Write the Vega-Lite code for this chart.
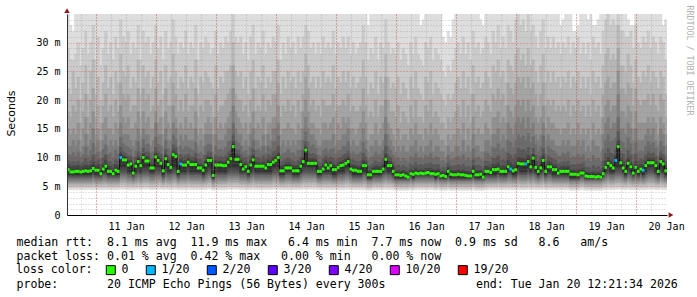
{
"$schema":"https://vega.github.io/schema/vega-lite/v6.json",
"width":600,"height":201,
"autosize":{"type":"none"},
"padding":{"left":67,"top":14,"right":30,"bottom":82},
"background":"#ffffff",
"config":{"view":{"stroke":null},"font":"DejaVu Sans Mono"},
"datasets":{
"lows":[
{"q":"a","lo":[4.3,4.6,4.9,5.2,5.5,5.8,6.0,6.2,6.4,6.5]},
{"q":"b","lo":[4.4,4.8,5.1,5.4,5.7,6.0,6.3,6.6,6.8,7.0]},
{"q":"c","lo":[4.4,4.8,5.2,5.5,5.9,6.2,6.6,7.0,7.3,7.6]},
{"q":"d","lo":[4.5,4.9,5.3,5.7,6.1,6.5,6.9,7.3,7.8,8.4]}
],
"med":[
{"i":0,"m":7.9,"l":0,"q":"b","hi":[36,29,22,18,15,12,10.6,9.5,8.8,8.3]},
{"i":1,"m":7.5,"l":0,"q":"b","hi":[33,27,21,17,14,12,10.4,9.2,8.4,7.9]},
{"i":2,"m":7.5,"l":0,"q":"b","hi":[32,27,25,19,15,13,10.9,9.3,8.5,7.9]},
{"i":3,"m":7.6,"l":0,"q":"b","hi":[37,28,22,18,14,12,10.2,9.1,8.5,8.0]},
{"i":4,"m":7.6,"l":0,"q":"b","hi":[36,30,24,20,16,13,11.0,9.4,8.6,8.0]},
{"i":5,"m":7.5,"l":0,"q":"b","hi":[39,26,20,16,13,11,10.0,9.0,8.4,7.9]},
{"i":6,"m":7.6,"l":0,"q":"b","hi":[37,29,23,18,15,12,10.5,9.2,8.5,8.0]},
{"i":7,"m":7.7,"l":0,"q":"b","hi":[38,32,26,21,17,14,11.8,9.8,8.7,8.1]},
{"i":8,"m":7.6,"l":0,"q":"b","hi":[36,28,21,17,14,12,10.3,9.1,8.5,8.0]},
{"i":9,"m":7.7,"l":0,"q":"b","hi":[37,30,25,20,16,13,11.2,9.5,8.7,8.1]},
{"i":10,"m":8.1,"l":0,"q":"c","hi":[40,33,27,22,18,15,12.5,10.4,9.2,8.5]},
{"i":11,"m":7.8,"l":0,"q":"b","hi":[36,27,21,17,14,12,10.6,9.4,8.7,8.2]},
{"i":12,"m":7.8,"l":0,"q":"b","hi":[38,31,24,19,15,13,11.0,9.6,8.8,8.2]},
{"i":13,"m":7.2,"l":0,"q":"b","hi":[35,26,20,16,13,11,9.8,8.8,8.0,7.6]},
{"i":14,"m":8.0,"l":0,"q":"c","hi":[37,29,23,19,16,13,11.4,9.9,9.0,8.4]},
{"i":15,"m":8.5,"l":0,"q":"c","hi":[39,32,26,21,17,14,12.2,10.5,9.5,8.9]},
{"i":16,"m":7.6,"l":0,"q":"b","hi":[36,28,22,18,15,12,10.5,9.2,8.5,8.0]},
{"i":17,"m":7.6,"l":0,"q":"b","hi":[38,30,24,19,15,13,10.9,9.3,8.5,8.0]},
{"i":18,"m":7.2,"l":0,"q":"b","hi":[37,27,21,17,14,12,10.0,8.9,8.1,7.6]},
{"i":19,"m":7.8,"l":0,"q":"b","hi":[39,31,25,20,16,13,11.3,9.6,8.8,8.2]},
{"i":20,"m":7.6,"l":0,"q":"b","hi":[36,29,23,18,15,12,10.6,9.3,8.5,8.0]},
{"i":21,"m":10.0,"l":1,"q":"d","hi":[40,34,28,23,19,16,13.5,11.8,10.9,10.4]},
{"i":22,"m":9.6,"l":0,"q":"d","hi":[38,31,25,21,17,14,12.4,11.0,10.3,10.0]},
{"i":23,"m":9.6,"l":0,"q":"d","hi":[37,30,24,20,16,14,12.0,10.8,10.2,10.0]},
{"i":24,"m":8.7,"l":0,"q":"c","hi":[39,32,26,21,17,14,11.8,10.3,9.5,9.1]},
{"i":25,"m":8.9,"l":0,"q":"c","hi":[36,28,22,18,15,13,11.4,10.2,9.5,9.3]},
{"i":26,"m":7.3,"l":0,"q":"b","hi":[38,30,24,19,15,12,10.2,8.9,8.1,7.7]},
{"i":27,"m":8.5,"l":0,"q":"c","hi":[37,29,23,19,16,13,11.2,10.0,9.2,8.9]},
{"i":28,"m":9.3,"l":0,"q":"d","hi":[40,33,27,22,18,15,12.8,11.0,10.1,9.7]},
{"i":29,"m":8.6,"l":0,"q":"c","hi":[36,27,21,17,14,12,10.9,9.8,9.1,9.0]},
{"i":30,"m":10.0,"l":0,"q":"d","hi":[39,32,26,22,18,15,13.2,11.6,10.7,10.4]},
{"i":31,"m":9.4,"l":0,"q":"d","hi":[37,30,24,20,16,14,12.2,10.9,10.1,9.8]},
{"i":32,"m":9.4,"l":0,"q":"d","hi":[38,31,25,21,17,14,12.4,11.0,10.2,9.8]},
{"i":33,"m":8.2,"l":0,"q":"c","hi":[36,28,22,18,15,12,10.8,9.7,9.0,8.6]},
{"i":34,"m":8.2,"l":0,"q":"c","hi":[39,30,24,19,15,13,11.0,9.8,9.0,8.6]},
{"i":35,"m":10.1,"l":0,"q":"d","hi":[40,33,27,22,18,16,13.6,11.8,10.9,10.5]},
{"i":36,"m":9.5,"l":0,"q":"d","hi":[37,29,23,19,16,14,12.3,11.0,10.2,9.9]},
{"i":37,"m":9.0,"l":0,"q":"d","hi":[38,31,25,20,17,14,12.0,10.6,9.8,9.4]},
{"i":38,"m":7.7,"l":0,"q":"b","hi":[35,27,21,17,14,12,10.3,9.1,8.4,8.1]},
{"i":39,"m":9.8,"l":0,"q":"d","hi":[39,32,26,22,18,15,13.0,11.4,10.5,10.2]},
{"i":40,"m":8.8,"l":0,"q":"c","hi":[37,29,23,19,16,13,11.6,10.3,9.6,9.2]},
{"i":41,"m":8.3,"l":0,"q":"c","hi":[38,30,24,19,15,13,11.0,9.9,9.1,8.7]},
{"i":42,"m":10.5,"l":0,"q":"d","hi":[40,34,28,23,19,16,14.0,12.2,11.3,10.9]},
{"i":43,"m":10.2,"l":0,"q":"d","hi":[39,31,25,21,17,15,13.2,11.8,11.0,10.6]},
{"i":44,"m":7.6,"l":0,"q":"b","hi":[36,28,22,18,15,12,10.5,9.2,8.4,8.0]},
{"i":45,"m":8.9,"l":1,"q":"c","hi":[38,30,24,20,16,14,12.0,10.5,9.7,9.3]},
{"i":46,"m":8.7,"l":0,"q":"c","hi":[37,29,23,18,15,13,11.4,10.1,9.4,9.1]},
{"i":47,"m":8.7,"l":0,"q":"c","hi":[39,32,26,21,17,14,12.0,10.4,9.5,9.1]},
{"i":48,"m":9.2,"l":0,"q":"d","hi":[36,28,22,18,15,13,11.8,10.6,9.9,9.6]},
{"i":49,"m":8.8,"l":0,"q":"c","hi":[38,30,24,19,16,13,11.5,10.2,9.5,9.2]},
{"i":50,"m":8.8,"l":0,"q":"c","hi":[37,29,23,19,15,13,11.3,10.1,9.4,9.2]},
{"i":51,"m":8.8,"l":0,"q":"c","hi":[40,33,27,22,18,15,12.6,10.8,9.8,9.2]},
{"i":52,"m":8.2,"l":0,"q":"c","hi":[36,27,21,17,14,12,10.6,9.6,8.9,8.6]},
{"i":53,"m":8.2,"l":0,"q":"c","hi":[38,30,24,19,15,13,11.0,9.8,9.0,8.6]},
{"i":54,"m":7.8,"l":0,"q":"b","hi":[37,29,23,18,14,12,10.5,9.3,8.6,8.2]},
{"i":55,"m":8.7,"l":0,"q":"c","hi":[39,31,25,20,16,14,12.0,10.4,9.5,9.1]},
{"i":56,"m":9.5,"l":0,"q":"d","hi":[38,30,24,20,17,14,12.4,11.0,10.2,9.9]},
{"i":57,"m":9.5,"l":0,"q":"d","hi":[36,28,23,19,16,14,12.2,10.9,10.1,9.9]},
{"i":58,"m":6.9,"l":0,"q":"a","hi":[37,29,22,17,14,11,9.6,8.4,7.7,7.3]},
{"i":59,"m":8.7,"l":0,"q":"c","hi":[39,32,26,21,17,14,12.0,10.4,9.5,9.1]},
{"i":60,"m":8.7,"l":0,"q":"c","hi":[36,28,22,18,15,13,11.3,10.1,9.4,9.1]},
{"i":61,"m":8.7,"l":0,"q":"c","hi":[38,30,24,19,16,13,11.5,10.2,9.4,9.1]},
{"i":62,"m":8.6,"l":0,"q":"c","hi":[37,29,23,19,15,13,11.2,10.0,9.3,9.0]},
{"i":63,"m":8.6,"l":0,"q":"c","hi":[40,31,25,20,16,14,11.8,10.3,9.4,9.0]},
{"i":64,"m":9.2,"l":0,"q":"d","hi":[38,30,25,21,17,15,12.8,11.0,10.0,9.6]},
{"i":65,"m":9.8,"l":0,"q":"d","hi":[39,32,26,22,18,15,13.0,11.4,10.6,10.2]},
{"i":66,"m":11.9,"l":0,"q":"d","hi":[41,35,30,26,22,19,16.0,14.0,12.8,12.3]},
{"i":67,"m":9.7,"l":0,"q":"d","hi":[38,31,25,21,18,15,13.0,11.4,10.6,10.1]},
{"i":68,"m":9.7,"l":0,"q":"d","hi":[37,30,24,20,17,14,12.5,11.2,10.4,10.1]},
{"i":69,"m":8.8,"l":0,"q":"c","hi":[38,31,25,20,16,14,12.0,10.5,9.6,9.2]},
{"i":70,"m":8.0,"l":0,"q":"c","hi":[36,28,22,18,15,12,10.9,9.8,9.0,8.4]},
{"i":71,"m":8.4,"l":0,"q":"c","hi":[39,30,24,19,16,13,11.2,10.0,9.2,8.8]},
{"i":72,"m":7.6,"l":0,"q":"b","hi":[37,27,21,17,14,12,10.4,9.2,8.4,8.0]},
{"i":73,"m":8.7,"l":0,"q":"c","hi":[38,31,25,20,16,14,11.8,10.3,9.5,9.1]},
{"i":74,"m":9.6,"l":0,"q":"d","hi":[40,33,27,22,18,15,13.0,11.4,10.4,10.0]},
{"i":75,"m":8.5,"l":0,"q":"c","hi":[36,28,22,18,15,13,11.2,10.0,9.2,8.9]},
{"i":76,"m":8.5,"l":0,"q":"c","hi":[38,30,24,19,16,13,11.4,10.0,9.2,8.9]},
{"i":77,"m":8.5,"l":0,"q":"c","hi":[37,29,23,18,15,12,11.0,9.8,9.1,8.9]},
{"i":78,"m":8.5,"l":0,"q":"c","hi":[39,32,26,21,17,14,12.0,10.3,9.3,8.9]},
{"i":79,"m":8.2,"l":0,"q":"c","hi":[36,28,22,18,14,12,10.8,9.7,9.0,8.6]},
{"i":80,"m":8.8,"l":0,"q":"c","hi":[38,30,24,20,16,14,12.0,10.5,9.6,9.2]},
{"i":81,"m":8.8,"l":0,"q":"c","hi":[37,29,23,19,16,13,11.5,10.2,9.5,9.2]},
{"i":82,"m":9.2,"l":0,"q":"d","hi":[39,31,25,21,17,15,12.8,11.0,10.0,9.6]},
{"i":83,"m":9.5,"l":0,"q":"d","hi":[38,30,25,21,17,15,12.8,11.2,10.3,9.9]},
{"i":84,"m":10.0,"l":0,"q":"d","hi":[40,33,27,23,19,16,13.8,12.0,10.9,10.4]},
{"i":85,"m":7.7,"l":0,"q":"b","hi":[36,27,21,17,14,12,10.4,9.2,8.5,8.1]},
{"i":86,"m":7.7,"l":0,"q":"b","hi":[38,30,24,19,15,13,10.8,9.4,8.6,8.1]},
{"i":87,"m":8.2,"l":0,"q":"c","hi":[37,28,22,18,15,12,10.9,9.7,9.0,8.6]},
{"i":88,"m":8.2,"l":0,"q":"c","hi":[39,31,25,20,16,13,11.4,9.9,9.1,8.6]},
{"i":89,"m":8.2,"l":0,"q":"c","hi":[36,29,23,18,15,12,10.8,9.7,9.0,8.6]},
{"i":90,"m":7.7,"l":0,"q":"b","hi":[38,30,24,19,15,13,10.9,9.4,8.6,8.1]},
{"i":91,"m":7.7,"l":0,"q":"b","hi":[37,28,22,17,14,12,10.3,9.1,8.5,8.1]},
{"i":92,"m":7.7,"l":0,"q":"b","hi":[39,31,25,20,16,13,11.2,9.5,8.6,8.1]},
{"i":93,"m":8.5,"l":0,"q":"c","hi":[36,29,23,18,15,13,11.3,10.0,9.2,8.9]},
{"i":94,"m":9.3,"l":0,"q":"d","hi":[38,31,25,21,18,15,13.0,11.2,10.1,9.7]},
{"i":95,"m":11.3,"l":0,"q":"d","hi":[40,33,28,24,20,17,14.5,12.8,12.0,11.7]},
{"i":96,"m":9.0,"l":0,"q":"d","hi":[39,32,26,22,18,15,12.8,11.0,9.9,9.4]},
{"i":97,"m":9.0,"l":0,"q":"d","hi":[37,29,23,19,16,14,12.0,10.6,9.8,9.4]},
{"i":98,"m":9.0,"l":0,"q":"d","hi":[38,30,24,20,16,14,12.2,10.7,9.8,9.4]},
{"i":99,"m":9.0,"l":0,"q":"d","hi":[36,28,22,18,15,13,11.6,10.4,9.7,9.4]},
{"i":100,"m":7.6,"l":0,"q":"b","hi":[38,30,24,19,15,12,10.5,9.2,8.4,8.0]},
{"i":101,"m":7.6,"l":0,"q":"b","hi":[37,28,22,17,14,12,10.3,9.1,8.4,8.0]},
{"i":102,"m":8.0,"l":0,"q":"c","hi":[39,31,25,20,16,13,11.2,9.8,8.9,8.4]},
{"i":103,"m":8.7,"l":0,"q":"c","hi":[36,29,23,19,16,13,11.6,10.3,9.5,9.1]},
{"i":104,"m":8.2,"l":0,"q":"c","hi":[38,30,24,19,15,13,11.0,9.8,9.0,8.6]},
{"i":105,"m":8.6,"l":0,"q":"c","hi":[37,29,23,19,16,13,11.4,10.1,9.3,9.0]},
{"i":106,"m":7.9,"l":0,"q":"b","hi":[40,32,26,21,17,14,11.6,9.9,8.9,8.3]},
{"i":107,"m":7.9,"l":0,"q":"b","hi":[36,28,22,18,14,12,10.6,9.4,8.7,8.3]},
{"i":108,"m":8.3,"l":0,"q":"c","hi":[38,30,24,19,16,13,11.2,9.9,9.1,8.7]},
{"i":109,"m":8.6,"l":0,"q":"c","hi":[37,29,23,19,15,13,11.3,10.0,9.3,9.0]},
{"i":110,"m":8.7,"l":0,"q":"c","hi":[39,31,25,20,17,14,12.0,10.4,9.5,9.1]},
{"i":111,"m":9.0,"l":0,"q":"d","hi":[36,29,23,19,16,14,12.0,10.6,9.8,9.4]},
{"i":112,"m":9.3,"l":0,"q":"d","hi":[38,31,25,21,17,15,12.8,11.1,10.1,9.7]},
{"i":113,"m":8.0,"l":0,"q":"c","hi":[37,28,22,18,15,12,10.8,9.7,8.9,8.4]},
{"i":114,"m":7.8,"l":0,"q":"b","hi":[39,30,24,19,15,13,11.0,9.6,8.7,8.2]},
{"i":115,"m":7.8,"l":0,"q":"b","hi":[36,28,22,18,14,12,10.5,9.3,8.6,8.2]},
{"i":116,"m":7.6,"l":0,"q":"b","hi":[38,29,23,18,15,12,10.6,9.2,8.4,8.0]},
{"i":117,"m":7.6,"l":0,"q":"b","hi":[37,30,24,19,16,13,11.0,9.4,8.5,8.0]},
{"i":118,"m":8.6,"l":0,"q":"c","hi":[40,33,27,22,18,15,12.6,10.8,9.6,9.0]},
{"i":119,"m":8.6,"l":0,"q":"c","hi":[38,30,24,19,16,13,11.4,10.1,9.3,9.0]},
{"i":120,"m":7.0,"l":0,"q":"a","hi":[33,27,21,17,13,11,9.6,8.5,7.7,7.4]},
{"i":121,"m":7.0,"l":0,"q":"a","hi":[38,29,23,18,14,12,10.0,8.6,7.8,7.4]},
{"i":122,"m":7.6,"l":0,"q":"b","hi":[37,28,22,17,14,12,10.2,9.0,8.3,8.0]},
{"i":123,"m":7.6,"l":0,"q":"b","hi":[39,31,25,20,16,13,11.0,9.4,8.5,8.0]},
{"i":124,"m":7.6,"l":0,"q":"b","hi":[36,27,21,17,14,12,10.3,9.1,8.4,8.0]},
{"i":125,"m":7.6,"l":0,"q":"b","hi":[38,30,24,19,15,12,10.6,9.2,8.4,8.0]},
{"i":126,"m":8.0,"l":0,"q":"c","hi":[37,29,23,19,16,13,11.2,9.8,8.9,8.4]},
{"i":127,"m":9.7,"l":0,"q":"d","hi":[40,34,28,24,20,17,14.0,12.0,10.7,10.1]},
{"i":128,"m":8.6,"l":0,"q":"c","hi":[38,30,24,20,16,14,12.0,10.4,9.4,9.0]},
{"i":129,"m":8.6,"l":0,"q":"c","hi":[36,28,22,18,15,13,11.2,10.0,9.3,9.0]},
{"i":130,"m":7.6,"l":0,"q":"b","hi":[38,29,23,18,14,12,10.4,9.2,8.4,8.0]},
{"i":131,"m":7.0,"l":0,"q":"a","hi":[37,28,22,17,13,11,9.7,8.5,7.8,7.4]},
{"i":132,"m":7.0,"l":0,"q":"a","hi":[39,30,24,19,15,12,10.0,8.7,7.8,7.4]},
{"i":133,"m":6.9,"l":0,"q":"a","hi":[36,27,21,16,13,11,9.4,8.3,7.6,7.3]},
{"i":134,"m":7.0,"l":0,"q":"a","hi":[38,29,23,18,14,12,9.9,8.6,7.8,7.4]},
{"i":135,"m":6.8,"l":0,"q":"a","hi":[37,28,22,17,14,11,9.6,8.3,7.5,7.2]},
{"i":136,"m":6.6,"l":0,"q":"a","hi":[35,26,20,16,13,11,9.2,8.0,7.3,7.0]},
{"i":137,"m":7.2,"l":0,"q":"b","hi":[38,30,24,19,15,12,10.2,8.9,8.0,7.6]},
{"i":138,"m":7.1,"l":0,"q":"a","hi":[37,28,22,17,14,12,9.9,8.6,7.8,7.5]},
{"i":139,"m":7.3,"l":0,"q":"b","hi":[39,31,25,20,16,13,10.8,9.2,8.2,7.7]},
{"i":140,"m":7.2,"l":0,"q":"b","hi":[36,28,22,17,14,11,9.8,8.7,7.9,7.6]},
{"i":141,"m":7.3,"l":0,"q":"b","hi":[33,27,21,17,14,12,10.0,8.8,8.0,7.7]},
{"i":142,"m":7.2,"l":0,"q":"b","hi":[34,26,20,16,13,11,9.7,8.6,7.9,7.6]},
{"i":143,"m":7.3,"l":0,"q":"b","hi":[38,30,24,19,15,12,10.4,9.0,8.1,7.7]},
{"i":144,"m":7.4,"l":0,"q":"b","hi":[37,29,23,18,14,12,10.1,8.9,8.1,7.8]},
{"i":145,"m":7.2,"l":0,"q":"b","hi":[39,31,25,20,16,13,10.8,9.1,8.1,7.6]},
{"i":146,"m":7.2,"l":0,"q":"b","hi":[36,27,21,17,14,11,9.8,8.7,7.9,7.6]},
{"i":147,"m":7.1,"l":0,"q":"a","hi":[38,29,23,18,15,12,10.2,8.8,7.9,7.5]},
{"i":148,"m":7.2,"l":0,"q":"b","hi":[37,28,22,17,14,12,10.0,8.8,8.0,7.6]},
{"i":149,"m":6.8,"l":0,"q":"a","hi":[35,27,21,16,13,11,9.4,8.2,7.5,7.2]},
{"i":150,"m":6.9,"l":0,"q":"a","hi":[31,25,20,16,13,11,9.5,8.3,7.6,7.3]},
{"i":151,"m":6.7,"l":0,"q":"a","hi":[30,24,19,15,12,10,9.0,8.0,7.3,7.1]},
{"i":152,"m":7.6,"l":0,"q":"b","hi":[32,26,21,17,14,12,10.4,9.1,8.3,8.0]},
{"i":153,"m":7.1,"l":0,"q":"a","hi":[31,25,20,16,13,11,9.6,8.5,7.8,7.5]},
{"i":154,"m":7.0,"l":0,"q":"a","hi":[34,27,21,17,14,11,9.7,8.5,7.7,7.4]},
{"i":155,"m":7.0,"l":0,"q":"a","hi":[37,29,23,18,14,12,10.0,8.6,7.8,7.4]},
{"i":156,"m":7.1,"l":0,"q":"a","hi":[38,30,24,19,15,12,10.2,8.8,7.9,7.5]},
{"i":157,"m":7.0,"l":0,"q":"a","hi":[36,28,22,17,14,11,9.7,8.5,7.7,7.4]},
{"i":158,"m":7.0,"l":0,"q":"a","hi":[39,31,25,20,16,13,10.5,8.9,7.9,7.4]},
{"i":159,"m":6.9,"l":0,"q":"a","hi":[37,28,22,17,13,11,9.5,8.3,7.6,7.3]},
{"i":160,"m":6.8,"l":0,"q":"a","hi":[38,30,24,19,15,12,10.0,8.5,7.6,7.2]},
{"i":161,"m":6.8,"l":0,"q":"a","hi":[36,27,21,16,13,11,9.4,8.2,7.5,7.2]},
{"i":162,"m":7.6,"l":0,"q":"b","hi":[39,32,26,21,17,14,11.5,9.6,8.5,8.0]},
{"i":163,"m":7.0,"l":0,"q":"a","hi":[37,29,23,18,14,12,9.9,8.6,7.8,7.4]},
{"i":164,"m":7.0,"l":0,"q":"a","hi":[38,30,24,19,15,12,10.1,8.7,7.8,7.4]},
{"i":165,"m":7.1,"l":0,"q":"a","hi":[34,28,22,17,14,11,9.7,8.5,7.8,7.5]},
{"i":166,"m":6.6,"l":0,"q":"a","hi":[33,29,23,18,14,11,9.4,8.1,7.3,7.0]},
{"i":167,"m":7.6,"l":0,"q":"b","hi":[39,31,25,20,16,13,11.0,9.4,8.5,8.0]},
{"i":168,"m":7.6,"l":0,"q":"b","hi":[38,30,24,19,15,13,10.8,9.3,8.4,8.0]},
{"i":169,"m":7.4,"l":0,"q":"b","hi":[36,28,22,18,14,12,10.2,9.0,8.2,7.8]},
{"i":170,"m":7.9,"l":0,"q":"b","hi":[39,32,26,21,17,14,11.8,9.9,8.9,8.3]},
{"i":171,"m":7.9,"l":0,"q":"b","hi":[38,30,25,20,17,14,11.6,9.8,8.8,8.3]},
{"i":172,"m":8.0,"l":0,"q":"c","hi":[40,33,27,22,18,15,12.4,10.3,9.1,8.4]},
{"i":173,"m":7.6,"l":0,"q":"b","hi":[37,29,24,20,16,13,11.2,9.5,8.5,8.0]},
{"i":174,"m":7.6,"l":0,"q":"b","hi":[38,31,25,21,17,14,11.6,9.6,8.6,8.0]},
{"i":175,"m":7.6,"l":0,"q":"b","hi":[36,29,23,19,16,13,11.0,9.4,8.5,8.0]},
{"i":176,"m":8.4,"l":0,"q":"c","hi":[40,33,27,23,19,16,13.0,10.8,9.5,8.8]},
{"i":177,"m":8.0,"l":1,"q":"c","hi":[39,32,26,22,18,15,12.6,10.4,9.1,8.4]},
{"i":178,"m":7.7,"l":0,"q":"b","hi":[38,30,25,21,17,14,11.8,9.8,8.7,8.1]},
{"i":179,"m":7.9,"l":0,"q":"b","hi":[40,34,28,23,19,16,13.0,10.6,9.1,8.3]},
{"i":180,"m":9.0,"l":0,"q":"d","hi":[41,35,29,24,20,17,14.0,11.6,10.0,9.4]},
{"i":181,"m":8.9,"l":0,"q":"c","hi":[39,33,27,23,19,16,13.4,11.2,9.9,9.3]},
{"i":182,"m":8.9,"l":0,"q":"c","hi":[40,34,28,24,20,17,13.8,11.4,9.9,9.3]},
{"i":183,"m":8.9,"l":1,"q":"c","hi":[38,32,26,22,18,15,13.0,11.0,9.8,9.3]},
{"i":184,"m":9.3,"l":0,"q":"d","hi":[41,35,29,24,20,17,14.2,11.8,10.3,9.7]},
{"i":185,"m":8.4,"l":0,"q":"c","hi":[39,32,26,22,18,15,12.6,10.6,9.4,8.8]},
{"i":186,"m":9.9,"l":0,"q":"d","hi":[40,33,27,23,19,16,13.6,11.6,10.6,10.3]},
{"i":187,"m":8.3,"l":0,"q":"c","hi":[38,31,25,21,17,14,12.2,10.4,9.3,8.7]},
{"i":188,"m":7.6,"l":0,"q":"b","hi":[37,29,23,19,16,13,11.0,9.4,8.5,8.0]},
{"i":189,"m":8.2,"l":0,"q":"c","hi":[39,32,26,21,17,14,12.0,10.2,9.1,8.6]},
{"i":190,"m":9.5,"l":0,"q":"d","hi":[40,34,28,23,19,16,13.8,11.6,10.4,9.9]},
{"i":191,"m":7.6,"l":0,"q":"b","hi":[37,29,23,19,15,13,10.8,9.4,8.5,8.0]},
{"i":192,"m":8.4,"l":0,"q":"c","hi":[38,31,25,20,17,14,12.0,10.3,9.3,8.8]},
{"i":193,"m":8.4,"l":0,"q":"c","hi":[36,29,23,19,16,13,11.4,10.0,9.2,8.8]},
{"i":194,"m":7.9,"l":0,"q":"b","hi":[39,31,25,20,16,13,11.2,9.7,8.8,8.3]},
{"i":195,"m":7.9,"l":0,"q":"b","hi":[37,29,23,18,15,12,10.8,9.5,8.7,8.3]},
{"i":196,"m":7.3,"l":0,"q":"b","hi":[38,30,24,19,15,12,10.2,8.9,8.0,7.7]},
{"i":197,"m":7.6,"l":0,"q":"b","hi":[33,28,22,18,14,12,10.3,9.1,8.4,8.0]},
{"i":198,"m":7.6,"l":0,"q":"b","hi":[34,30,24,19,15,13,10.8,9.3,8.5,8.0]},
{"i":199,"m":7.6,"l":0,"q":"b","hi":[37,29,23,18,15,12,10.5,9.2,8.4,8.0]},
{"i":200,"m":7.6,"l":0,"q":"b","hi":[39,31,25,20,16,13,11.0,9.4,8.5,8.0]},
{"i":201,"m":7.1,"l":0,"q":"a","hi":[36,28,22,17,14,12,9.9,8.7,7.9,7.5]},
{"i":202,"m":7.1,"l":0,"q":"a","hi":[32,30,24,19,15,12,10.2,8.8,7.9,7.5]},
{"i":203,"m":7.1,"l":0,"q":"a","hi":[32,29,23,18,14,12,10.0,8.7,7.9,7.5]},
{"i":204,"m":7.0,"l":0,"q":"a","hi":[33,31,25,20,16,13,10.6,8.9,7.9,7.4]},
{"i":205,"m":7.3,"l":0,"q":"b","hi":[36,28,22,18,14,12,10.1,8.9,8.0,7.7]},
{"i":206,"m":7.3,"l":0,"q":"b","hi":[38,30,24,19,15,13,10.6,9.1,8.1,7.7]},
{"i":207,"m":6.8,"l":0,"q":"a","hi":[37,28,22,17,14,11,9.5,8.3,7.5,7.2]},
{"i":208,"m":6.7,"l":0,"q":"a","hi":[34,30,24,19,15,12,9.8,8.3,7.4,7.1]},
{"i":209,"m":6.7,"l":0,"q":"a","hi":[36,27,21,17,13,11,9.3,8.1,7.4,7.1]},
{"i":210,"m":6.7,"l":0,"q":"a","hi":[33,31,25,20,16,13,10.4,8.6,7.5,7.1]},
{"i":211,"m":6.6,"l":0,"q":"a","hi":[33,29,23,18,14,12,9.6,8.2,7.3,7.0]},
{"i":212,"m":6.7,"l":0,"q":"a","hi":[34,30,24,19,15,12,9.9,8.4,7.4,7.1]},
{"i":213,"m":6.6,"l":0,"q":"a","hi":[36,28,22,17,14,11,9.3,8.0,7.3,7.0]},
{"i":214,"m":7.2,"l":0,"q":"b","hi":[39,32,26,21,17,14,11.4,9.4,8.2,7.6]},
{"i":215,"m":8.3,"l":0,"q":"c","hi":[40,34,28,23,19,16,13.0,10.8,9.4,8.7]},
{"i":216,"m":9.0,"l":0,"q":"d","hi":[41,35,29,24,20,17,14.0,11.6,10.0,9.4]},
{"i":217,"m":8.6,"l":0,"q":"c","hi":[39,33,27,22,18,15,12.8,10.8,9.5,9.0]},
{"i":218,"m":8.2,"l":0,"q":"c","hi":[40,34,28,23,19,16,13.0,10.6,9.2,8.6]},
{"i":219,"m":9.5,"l":1,"q":"d","hi":[40,33,27,23,19,16,13.4,11.4,10.3,9.9]},
{"i":220,"m":11.9,"l":0,"q":"d","hi":[42,37,33,29,25,21,17.0,14.5,13.0,12.3]},
{"i":221,"m":9.1,"l":0,"q":"d","hi":[39,32,26,22,18,15,13.0,11.0,9.9,9.5]},
{"i":222,"m":8.2,"l":0,"q":"c","hi":[39,32,26,22,18,15,12.6,10.6,9.2,8.6]},
{"i":223,"m":7.6,"l":0,"q":"b","hi":[38,31,25,21,17,14,11.6,9.6,8.5,8.0]},
{"i":224,"m":9.0,"l":0,"q":"d","hi":[34,31,28,23,19,16,13.4,11.2,9.9,9.4]},
{"i":225,"m":8.4,"l":0,"q":"c","hi":[33,32,26,22,18,15,12.4,10.4,9.2,8.8]},
{"i":226,"m":7.3,"l":0,"q":"b","hi":[33,29,23,19,15,13,10.6,9.0,8.1,7.7]},
{"i":227,"m":8.3,"l":0,"q":"c","hi":[39,33,27,22,18,15,12.6,10.6,9.3,8.7]},
{"i":228,"m":7.6,"l":0,"q":"b","hi":[38,30,24,20,16,13,11.0,9.4,8.5,8.0]},
{"i":229,"m":8.0,"l":0,"q":"c","hi":[36,29,23,19,16,13,11.2,9.8,8.9,8.4]},
{"i":230,"m":7.8,"l":1,"q":"b","hi":[38,31,25,20,16,13,11.0,9.6,8.7,8.2]},
{"i":231,"m":8.6,"l":0,"q":"c","hi":[37,30,24,20,16,14,12.0,10.4,9.4,9.0]},
{"i":232,"m":9.1,"l":0,"q":"d","hi":[39,32,26,21,17,15,12.8,11.0,9.9,9.5]},
{"i":233,"m":9.1,"l":0,"q":"d","hi":[36,29,23,19,16,14,12.2,10.7,9.9,9.5]},
{"i":234,"m":9.1,"l":0,"q":"d","hi":[38,31,25,21,17,15,12.6,10.9,9.9,9.5]},
{"i":235,"m":8.6,"l":0,"q":"c","hi":[37,30,24,19,16,13,11.6,10.2,9.3,9.0]},
{"i":236,"m":7.6,"l":0,"q":"b","hi":[35,28,22,18,14,12,10.4,9.2,8.4,8.0]},
{"i":237,"m":9.3,"l":0,"q":"d","hi":[38,31,25,21,17,15,12.8,11.0,10.1,9.7]},
{"i":238,"m":8.9,"l":0,"q":"c","hi":[33,30,24,20,16,14,12.0,10.5,9.6,9.3]},
{"i":239,"m":7.7,"l":0,"q":"b","hi":[34,27,21,17,14,12,10.4,9.2,8.5,8.1]}
]
},
"layer":[
{
"data":{"name":"med"},
"transform":[
{"lookup":"q","from":{"data":{"name":"lows"},"key":"q","fields":["lo"]}},
{"flatten":["lo","hi"]},
{"window":[{"op":"row_number","as":"b"}],"groupby":["i"]},
{"calculate":"datum.i+1","as":"i2"}
],
"mark":{"type":"rect","clip":true,"strokeWidth":0.6},
"encoding":{
"x":{"field":"i","type":"quantitative","scale":{"domain":[0,240],"nice":false,"zero":false},"axis":{"orient":"bottom","values":[5.64,11.64,17.64,23.64,29.64,35.64,41.64,47.64,53.64,59.64,65.64,71.64,77.64,83.64,89.64,95.64,101.64,107.64,113.64,119.64,125.64,131.64,137.64,143.64,149.64,155.64,161.64,167.64,173.64,179.64,185.64,191.64,197.64,203.64,209.64,215.64,221.64,227.64,233.64],"grid":true,"gridColor":"#808080","gridOpacity":0.45,"gridDash":[1,2],"labels":false,"ticks":false,"domain":false,"title":["median\u00a0rtt:\u00a0\u00a08.1\u00a0ms\u00a0avg\u00a0\u00a011.9\u00a0ms\u00a0max\u00a0\u00a0\u00a06.4\u00a0ms\u00a0min\u00a0\u00a07.7\u00a0ms\u00a0now\u00a0\u00a00.9\u00a0ms\u00a0sd\u00a0\u00a0\u00a08.6\u00a0\u00a0\u00a0am/s","packet\u00a0loss:\u00a00.01\u00a0%\u00a0avg\u00a0\u00a00.42\u00a0%\u00a0max\u00a0\u00a0\u00a00.00\u00a0%\u00a0min\u00a0\u00a0\u00a00.00\u00a0%\u00a0now"],"titleFont":"DejaVu Sans Mono","titleFontSize":11.57,"titleFontWeight":"normal","titleColor":"#000000","titleLineHeight":14,"titleX":-51,"titleY":27,"titleAlign":"left","titleBaseline":"middle","titleAngle":0,"zindex":1}},
"x2":{"field":"i2"},
"y":{"field":"lo","type":"quantitative","scale":{"domain":[0,35],"nice":false,"zero":true},"axis":{"orient":"left","values":[1,2,3,4,6,7,8,9,11,12,13,14,16,17,18,19,21,22,23,24,26,27,28,29,31,32,33,34],"grid":true,"gridColor":"#808080","gridOpacity":0.45,"gridDash":[1,2],"labels":false,"ticks":false,"domain":false,"title":null,"zindex":1}},
"y2":{"field":"hi"},
"fill":{"field":"b","type":"ordinal","scale":{"domain":[1,2,3,4,5,6,7,8,9,10],"range":["#dddddd","#cacaca","#b7b7b7","#a4a4a4","#919191","#7e7e7e","#6b6b6b","#585858","#454545","#323232"]},"legend":null},
"stroke":{"field":"b","type":"ordinal","scale":{"domain":[1,2,3,4,5,6,7,8,9,10],"range":["#dddddd","#cacaca","#b7b7b7","#a4a4a4","#919191","#7e7e7e","#6b6b6b","#585858","#454545","#323232"]},"legend":null},
"order":{"field":"b","type":"quantitative"}
}
},
{
"data":{"name":"med"},
"transform":[{"calculate":"datum.i+0.5","as":"c"}],
"mark":{"type":"line","interpolate":"step","color":"#111111","strokeWidth":1,"clip":true},
"encoding":{
"x":{"field":"c","type":"quantitative","scale":{"domain":[0,240],"nice":false,"zero":false},"axis":{"orient":"bottom","values":[11.64,35.64,59.64,83.64,107.64,131.64,155.64,179.64,203.64,227.64],"grid":true,"gridColor":"#e00000","gridOpacity":0.4,"gridDash":[1,2],"ticks":false,"labelOffset":30,"labelPadding":6,"labelExpr":"(round((datum.value - 11.64)/24) + 11) + ' Jan'","labelBound":false,"labelFlush":false,"labelOverlap":false,"labelFont":"DejaVu Sans Mono","labelFontSize":10,"labelColor":"#000000","domain":true,"domainColor":"#000000","domainWidth":1,"title":"probe:\u00a0\u00a0\u00a0\u00a0\u00a0\u00a0\u00a020\u00a0ICMP\u00a0Echo\u00a0Pings\u00a0(56\u00a0Bytes)\u00a0every\u00a0300s\u00a0\u00a0\u00a0\u00a0\u00a0\u00a0\u00a0\u00a0\u00a0\u00a0\u00a0\u00a0\u00a0end:\u00a0Tue\u00a0Jan\u00a020\u00a012:21:34\u00a02026","titleFont":"DejaVu Sans Mono","titleFontSize":11.57,"titleFontWeight":"normal","titleColor":"#000000","titleX":-51,"titleY":69,"titleAlign":"left","titleBaseline":"middle","titleAngle":0,"zindex":1}},
"y":{"field":"m","type":"quantitative","scale":{"domain":[0,35],"nice":false,"zero":true},"axis":{"orient":"left","values":[0,5,10,15,20,25,30],"grid":true,"gridColor":"#e00000","gridOpacity":0.4,"gridDash":[1,2],"ticks":false,"labelPadding":7,"labelExpr":"datum.value == 0 ? '0' : datum.value + ' m'","labelFont":"DejaVu Sans Mono","labelFontSize":10,"labelColor":"#000000","domain":true,"domainColor":"#333333","domainWidth":1,"title":"Seconds","titleFont":"DejaVu Sans","titleFontSize":11,"titleFontWeight":"normal","titleColor":"#000000","titleAngle":-90,"titleX":-62,"titleY":99,"titleAlign":"center","titleBaseline":"top","zindex":1}}
}
},
{
"data":{"name":"med"},
"transform":[{"calculate":"datum.i+0.5","as":"c"}],
"mark":{"type":"tick","orient":"horizontal","size":2.7,"thickness":3,"opacity":1,"clip":true},
"encoding":{
"x":{"field":"c","type":"quantitative","scale":{"domain":[0,240],"nice":false,"zero":false},"axis":null},
"y":{"field":"m","type":"quantitative","scale":{"domain":[0,35],"nice":false,"zero":true},"axis":null},
"color":{"field":"l","type":"ordinal","scale":{"domain":[0,1,2,3,4,10,19],"range":["#26ff00","#00b8ff","#0059ff","#5e00ff","#7e00ff","#dd00ff","#ff0000"]},"legend":{"title":"loss color:","orient":"none","legendX":-51,"legendY":250,"direction":"horizontal","titleOrient":"left","titleFont":"DejaVu Sans Mono","titleFontSize":11.57,"titleFontWeight":"normal","titleColor":"#000000","titlePadding":12,"labelFont":"DejaVu Sans Mono","labelFontSize":11.57,"labelColor":"#000000","labelOffset":5,"symbolType":"square","symbolSize":81,"symbolStrokeColor":"#000000","symbolStrokeWidth":1,"symbolOpacity":1,"columnPadding":15,"labelExpr":"datum.value == 0 ? '0' : datum.value + '/20'","padding":0}}
}
},
{
"data":{"values":[{}]},
"mark":{"type":"point","shape":"triangle-up","filled":true,"color":"#8b1a1a","size":30,"opacity":1,"clip":false},
"encoding":{
"x":{"datum":0,"type":"quantitative","scale":{"domain":[0,240],"nice":false,"zero":false},"axis":null},
"y":{"datum":35.6,"type":"quantitative","scale":{"domain":[0,35],"nice":false,"zero":true},"axis":{"orient":"right","title":"RRDTOOL / TOBI OETIKER","labels":false,"ticks":false,"domain":false,"grid":false,"titleAngle":90,"titleFont":"DejaVu Sans Mono","titleFontSize":8.3,"titleFontWeight":"normal","titleColor":"#b0b0b0","titleX":21,"titleY":-9,"titleAlign":"left","titleBaseline":"middle"}}
}
},
{
"data":{"values":[{}]},
"mark":{"type":"point","shape":"triangle-right","filled":true,"color":"#8b1a1a","size":30,"opacity":1,"clip":false},
"encoding":{
"x":{"datum":241.6,"type":"quantitative","scale":{"domain":[0,240],"nice":false,"zero":false},"axis":null},
"y":{"datum":0,"type":"quantitative","scale":{"domain":[0,35],"nice":false,"zero":true},"axis":null}
}
}
],
"resolve":{"scale":{"color":"independent"},"axis":{"x":"independent","y":"independent"}}
}
